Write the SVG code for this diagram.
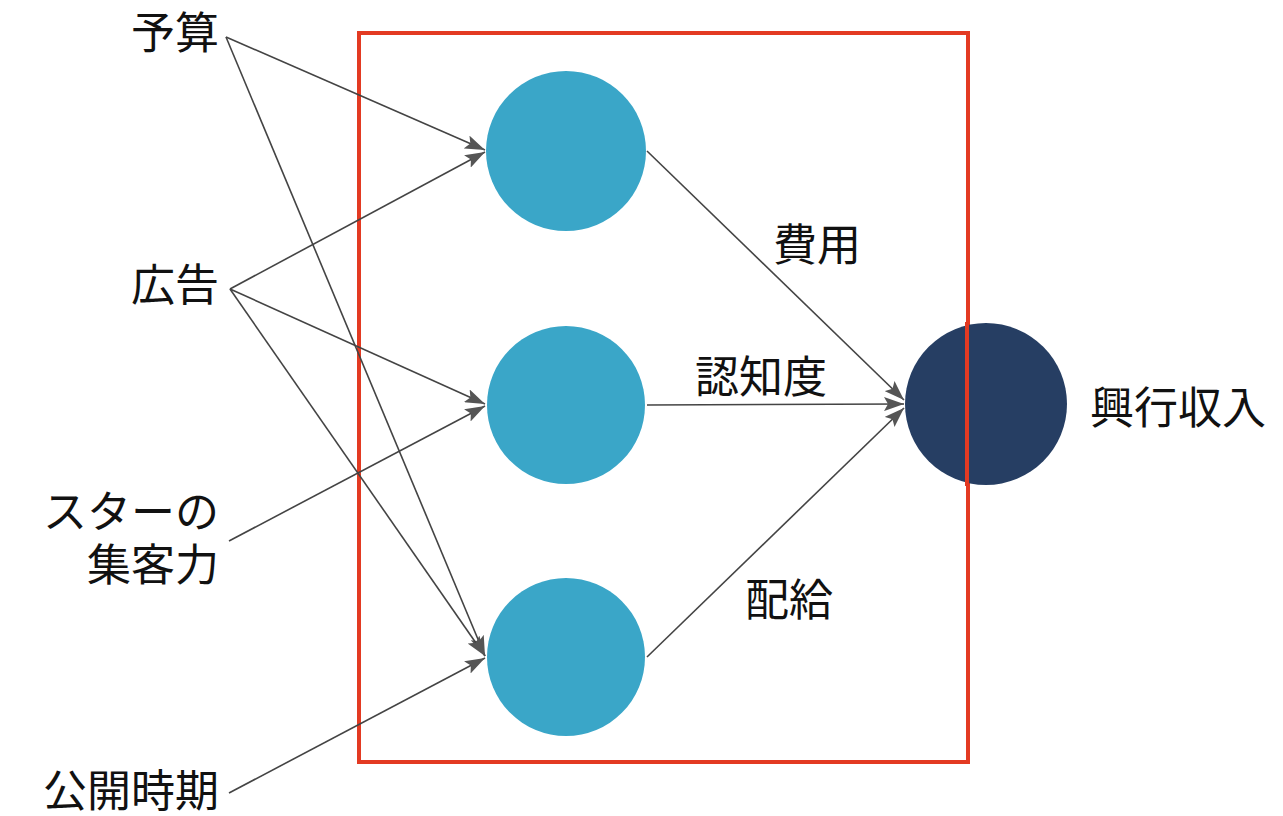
<svg xmlns="http://www.w3.org/2000/svg" width="1283" height="816" viewBox="0 0 1283 816">
<defs>
<marker id="arr" viewBox="0 0 20 14" refX="20" refY="7" markerWidth="20" markerHeight="14" markerUnits="userSpaceOnUse" orient="auto">
<path d="M0,0 L20,7 L0,14 L4,7 Z" fill="#555"/>
</marker>
<style>
.lbl{font-family:"Noto Sans CJK JP","Noto Sans CJK SC",sans-serif;font-size:44px;fill:#111;}
.edge{stroke:#444;stroke-width:1.6;fill:none;marker-end:url(#arr);}
.hid{fill:#3AA6C8;}
.out{fill:#263E63;}
</style>
</defs>
<rect width="1283" height="816" fill="#fff"/>
<rect id="frame" x="359" y="33" width="609" height="729" fill="none" stroke="#E33A22" stroke-width="4"/>
<g id="connectors">
<line class="edge" x1="226" y1="37" x2="485" y2="150"/>
<line class="edge" x1="226" y1="37" x2="485" y2="656"/>
<line class="edge" x1="230" y1="289" x2="485" y2="152"/>
<line class="edge" x1="230" y1="289" x2="485" y2="404"/>
<line class="edge" x1="230" y1="289" x2="485" y2="656"/>
<line class="edge" x1="229" y1="541" x2="485" y2="406"/>
<line class="edge" x1="229" y1="793" x2="485" y2="658"/>
<line class="edge" x1="647" y1="151" x2="904" y2="400"/>
<line class="edge" x1="647" y1="405" x2="904" y2="404"/>
<line class="edge" x1="647" y1="657" x2="904" y2="408"/>
</g>
<g id="h1"><circle class="hid" cx="566" cy="151" r="80"/></g>
<g id="h2"><circle class="hid" cx="566" cy="405" r="79"/></g>
<g id="h3"><circle class="hid" cx="566" cy="657" r="79"/></g>
<g id="revenue"><circle class="out" cx="986" cy="404" r="81"/><text class="lbl" x="1090" y="424">興行収入</text></g>
<line x1="967" y1="322" x2="967" y2="486" stroke="#E33A22" stroke-width="4"/>
<g id="budget"><text class="lbl" x="219" y="49" text-anchor="end">予算</text></g>
<g id="ads"><text class="lbl" x="219" y="301" text-anchor="end">広告</text></g>
<g id="star"><text class="lbl" x="219" y="528" text-anchor="end">スターの</text><text class="lbl" x="219" y="581" text-anchor="end">集客力</text></g>
<g id="release"><text class="lbl" x="219" y="807" text-anchor="end">公開時期</text></g>
<g id="edge-labels">
<text class="lbl" x="773" y="261">費用</text>
<text class="lbl" x="695" y="393">認知度</text>
<text class="lbl" x="745" y="616">配給</text>
</g>
</svg>
